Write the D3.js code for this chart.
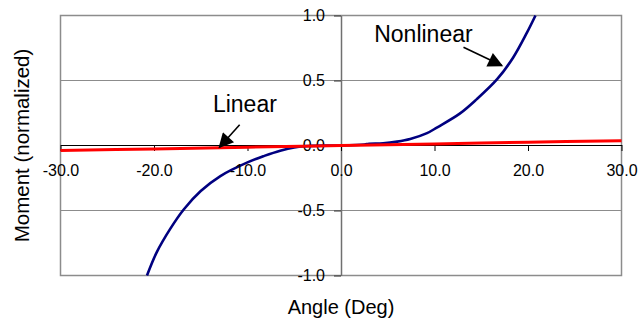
<!DOCTYPE html>
<html lang="en">
  <head>
    <meta charset="utf-8">
    <script src="https://d3js.org/d3.v7.min.js"></script>
    <title>Moment vs Angle</title>
    <style>
      body { margin: 0; background: #fff; }
      text { font-family: Arial, "Liberation Sans", sans-serif; fill: #000; }
    </style>
  </head>
  <body>
    <script>
      // tick values
      var xTicks = [-30, -20, -10, 0, 10, 20, 30];
      var yTicks = [-1, -0.5, 0, 0.5, 1];

      // series: [angle, moment]
      var linearData = [[-30, -0.038], [-20, -0.026], [-10, -0.013], [0, 0], [10, 0.012], [20, 0.025], [30, 0.037]];
      var nonlinearData = [
        [-20.75, -1.0], [-19.7, -0.82], [-18.3, -0.645], [-16.8, -0.49], [-15.0, -0.35],
        [-12.9, -0.235], [-10.0, -0.13], [-8.2, -0.08], [-6.5, -0.04], [-5.0, -0.015],
        [-3.5, -0.004], [0, 0], [2.5, 0.008], [3.0, 0.013], [4.5, 0.017], [6.0, 0.03],
        [7.4, 0.05], [9.2, 0.095], [10.3, 0.14], [12.7, 0.245], [14.5, 0.355],
        [16.7, 0.51], [18.4, 0.675], [19.9, 0.87], [20.8, 1.0]
      ];

      // callouts: label, text anchor point, arrow tail, arrow tip (data units)
      var callouts = [
        { label: "Linear", text: [-13.7, 0.26], from: [-10.84, 0.16], to: [-13.0, -0.013] },
        { label: "Nonlinear", text: [3.55, 0.8], from: [13.1, 0.756], to: [17.2, 0.615] }
      ];

      var width = 639, height = 324;

      var svg = d3.select("body").append("svg")
        .attr("width", width)
        .attr("height", height);

      var x = d3.scaleLinear().domain([-30, 30]).range([60.5, 621.5]);
      var y = d3.scaleLinear().domain([-1, 1]).range([275.5, 15.5]);

      var fmt = function (d) { return d.toFixed(1); };

      // arrow head
      svg.append("defs").append("marker")
        .attr("id", "head")
        .attr("viewBox", "0 0 10 10")
        .attr("refX", 9).attr("refY", 5)
        .attr("markerUnits", "userSpaceOnUse")
        .attr("markerWidth", 19).attr("markerHeight", 15)
        .attr("orient", "auto")
        .append("path")
        .attr("d", "M0,0L10,5L0,10Z")
        .attr("fill", "#000");

      // gridlines
      svg.append("g").selectAll("line")
        .data(yTicks)
        .enter().append("line")
        .attr("x1", x(-30)).attr("x2", x(30))
        .attr("y1", function (d) { return y(d); })
        .attr("y2", function (d) { return y(d); })
        .attr("stroke", "#8c8c8c")
        .attr("stroke-width", 1);

      // frame
      svg.append("rect")
        .attr("x", x(-30)).attr("y", y(1))
        .attr("width", x(30) - x(-30)).attr("height", y(-1) - y(1))
        .attr("fill", "none")
        .attr("stroke", "#8c8c8c")
        .attr("stroke-width", 1.5);

      var line = d3.line()
        .x(function (d) { return x(d[0]); })
        .y(function (d) { return y(d[1]); })
        .curve(d3.curveCatmullRom);

      svg.append("path")
        .datum(nonlinearData)
        .attr("d", line)
        .attr("fill", "none")
        .attr("stroke", "#000080")
        .attr("stroke-width", 2.6);

      // y axis through x = 0
      var yAxis = svg.append("g")
        .attr("transform", "translate(" + x(0) + ",0)")
        .call(d3.axisLeft(y).tickValues(yTicks).tickSize(7).tickSizeOuter(0).tickPadding(9).tickFormat(fmt));
      yAxis.select(".domain").attr("stroke", "#707070").attr("stroke-width", 1.5);
      yAxis.selectAll(".tick line").attr("stroke", "#333");
      yAxis.selectAll("text").style("font-size", "16px").attr("fill", "#000");

      // x axis through y = 0
      var xAxis = svg.append("g")
        .attr("transform", "translate(0," + Math.round(y(0) - 0.5) + ")")
        .call(d3.axisBottom(x).tickValues(xTicks).tickSize(6).tickSizeOuter(0).tickPadding(14).tickFormat(fmt));
      xAxis.select(".domain").attr("stroke", "#000").attr("stroke-width", 1);
      xAxis.selectAll(".tick line").attr("stroke", "#000");
      xAxis.selectAll("text").style("font-size", "16px").attr("fill", "#000");

      // linear series, drawn over the x axis line
      svg.append("path")
        .datum(linearData)
        .attr("d", line)
        .attr("fill", "none")
        .attr("stroke", "#ff0000")
        .attr("stroke-width", 3);

      // axis titles
      svg.append("text")
        .attr("x", x(0)).attr("y", 314)
        .attr("text-anchor", "middle")
        .style("font-size", "20px")
        .text("Angle (Deg)");

      svg.append("text")
        .attr("transform", "translate(29," + y(0) + ") rotate(-90)")
        .attr("text-anchor", "middle")
        .style("font-size", "20.5px")
        .text("Moment (normalized)");

      // callouts
      var co = svg.append("g").selectAll("g")
        .data(callouts)
        .enter().append("g");

      co.append("text")
        .attr("x", function (d) { return x(d.text[0]); })
        .attr("y", function (d) { return y(d.text[1]); })
        .style("font-size", "23px")
        .text(function (d) { return d.label; });

      co.append("line")
        .attr("x1", function (d) { return x(d.from[0]); })
        .attr("y1", function (d) { return y(d.from[1]); })
        .attr("x2", function (d) { return x(d.to[0]); })
        .attr("y2", function (d) { return y(d.to[1]); })
        .attr("stroke", "#000")
        .attr("stroke-width", 1.6)
        .attr("marker-end", "url(#head)");
    </script>
  </body>
</html>
